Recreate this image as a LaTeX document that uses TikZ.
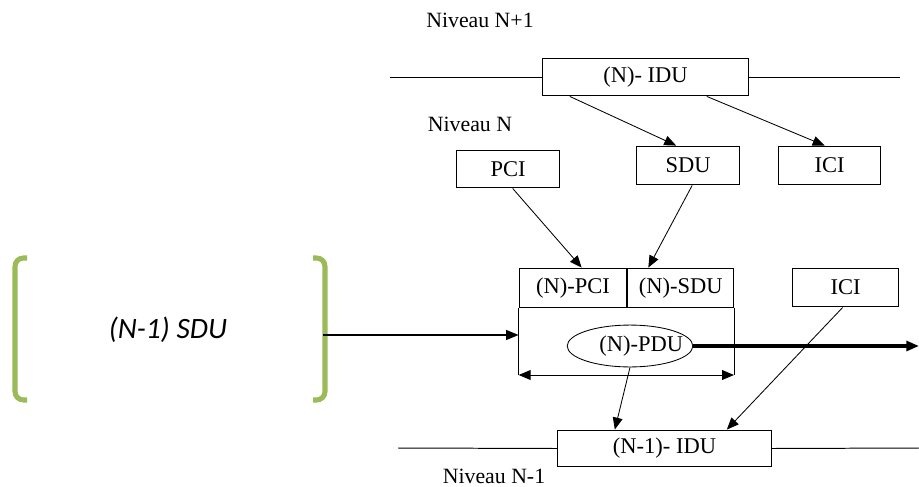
\documentclass[tikz,border=0pt]{standalone}
\usepackage{fontspec}
\setmainfont{Liberation Serif}
\newfontfamily\calibri{Carlito}
\usetikzlibrary{shapes,positioning,arrows.meta,calc}

\begin{document}
\begin{tikzpicture}[x=0.025cm, y=-0.025cm,
    box/.style = {draw, line width=0.7pt, minimum width=#1, inner sep=0pt,
                  font=\fontsize{16}{19}\selectfont},
    box/.default = 100,
    lbl/.style = {font=\fontsize{15.5}{18}\selectfont},
    arr/.style = {-{Triangle[length=8.5pt, width=7pt]}, line width=0.6pt},
    lvl/.style = {line width=0.7pt},
    brk/.style = {draw={rgb,255:red,155;green,187;blue,89}, line width=3.6pt, rounded corners=6pt}]
        \useasboundingbox (0,0) rectangle (919,486);
        % levels
        \node [lbl] (nivA) at (480,20) {Niveau N+1};
        \node [lbl] (nivB) at (470,124) {Niveau N};
        \node [lbl] (nivC) at (494,476) {Niveau N-1};
        % upper level
        \node [box=207pt*0.709, minimum height=38pt*0.709] (idun) at (645.5,77) {(N)- IDU};
        \draw [lvl] (390,77) -- (idun.west);
        \draw [lvl] (idun.east) -- (900,77);
        \node [box=103pt*0.709, minimum height=39pt*0.709] (sdu) at (688,165.5) {SDU};
        \node [box=103pt*0.709, minimum height=39pt*0.709] (icia) at (829.5,165.5) {ICI};
        \node [box=104pt*0.709, minimum height=38pt*0.709] (pci) at (508,169) {PCI};
        \draw [arr] ($(idun.south west)+(28,0)$) -- ($(sdu.north west)+(40,0)$);
        \draw [arr] ($(idun.south west)+(165,0)$) -- ($(icia.north west)+(47,0)$);
        % (N)-PDU frame
        \node [box=108pt*0.709, minimum height=40pt*0.709] (npci) at (573,288) {(N)-PCI};
        \node [box=106pt*0.709, minimum height=40pt*0.709, anchor=west] (nsdu) at (npci.east) {(N)-SDU};
        \coordinate (fsw) at (npci.south west |- 0,375);
        \coordinate (fse) at (nsdu.south east |- 0,375);
        \draw [lvl] (npci.south west) -- (fsw);
        \draw [lvl] (nsdu.south east) -- (fse);
        \draw [{Triangle[length=8.5pt, width=7pt]}-{Triangle[length=8.5pt, width=7pt]}, line width=0.7pt] (fsw) -- (fse);
        \node [draw, ellipse, line width=0.6pt, inner sep=0pt, minimum width=126pt*0.709, minimum height=42pt*0.709,
               font=\fontsize{16}{19}\selectfont] (pdu) at (630,346) {\makebox[0pt][c]{\hspace{16pt}(N)-PDU}};
        \draw [arr] ($(pci.south west)+(57,0)$) -- ($(npci.north west)+(63,0)$);
        \draw [arr] ($(sdu.south west)+(56,0)$) -- ($(nsdu.north west)+(21,0)$);
        % (N-1) SDU
        \draw [brk] (27,258) -- (15,258) -- (15,400) -- (27,400);
        \draw [brk] (313,258) -- (325,258) -- (325,400) -- (313,400);
        \node [font=\calibri\itshape\fontsize{21}{25}\selectfont] (sdum) at (168,330) {(N-1) SDU};
        \coordinate (rb) at (323,335);
        \coordinate (fl) at (npci.west |- rb);
        \draw [-{Triangle[length=9pt, width=7pt]}, line width=1.4pt] (rb) -- (fl);
        \coordinate (out) at (919,346);
        \draw [-{Triangle[length=9pt, width=7pt]}, line width=2.6pt] (pdu.east) -- (out);
        % lower level
        \node [box=107pt*0.709, minimum height=39pt*0.709] (icib) at (845.5,287.5) {ICI};
        \node [box=215pt*0.709, minimum height=37pt*0.709] (idum) at (664.5,448.5) {(N-1)- IDU};
        \draw [lvl] (398,448) -- (idum.west);
        \draw [lvl] (idum.east) -- (919,448);
        \draw [arr] (pdu.south) -- ($(idum.north west)+(58,0)$);
        \draw [arr] ($(icib.south west)+(51,0)$) -- ($(idum.north west)+(170,0)$);
      \end{tikzpicture}
\end{document}
